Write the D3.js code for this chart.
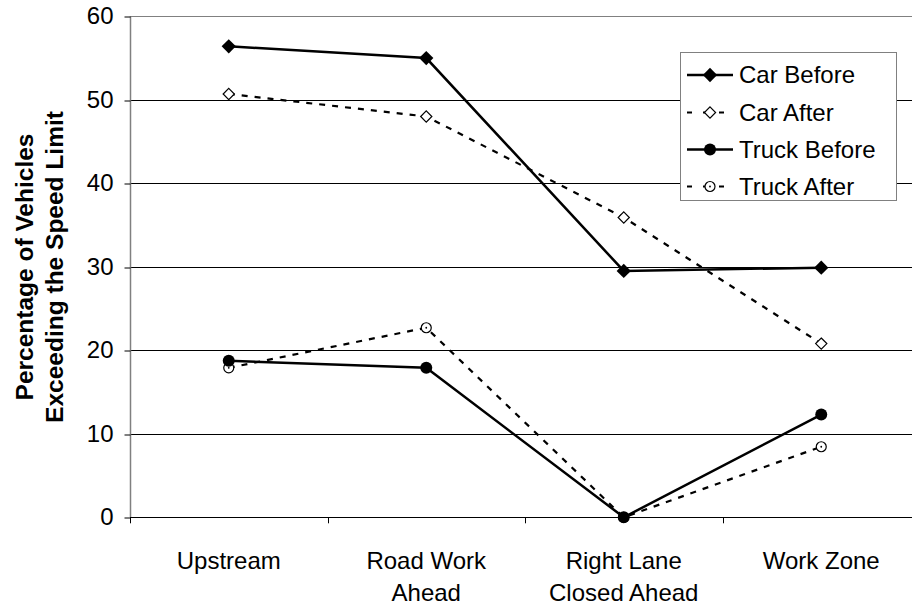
<!DOCTYPE html>
<html><head><meta charset="utf-8">
<script src="https://cdn.jsdelivr.net/npm/d3@7"></script>
<style>body{margin:0;background:#fff;overflow:hidden}svg{display:block;font-family:"Liberation Sans",Arial,sans-serif}</style>
</head><body><svg id="c" width="912" height="611"></svg>
<script>
const categories = [["Upstream"], ["Road Work","Ahead"], ["Right Lane","Closed Ahead"], ["Work Zone"]];
const carBefore = [56.4, 55.0, 29.5, 29.9];
const carAfter = [50.7, 48.0, 35.9, 20.8];
const truckBefore = [18.75, 17.9, 0, 12.3];
const truckAfter = [17.9, 22.7, 0, 8.45];
const yTicks = [0, 10, 20, 30, 40, 50, 60];
const seriesNames = ["Car Before", "Car After", "Truck Before", "Truck After"];

const FS = 24;
const svg = d3.select("#c");
const L = 130, R = 920, T = 16.3, B = 517.3;
const x = d3.scaleBand().domain(d3.range(categories.length)).range([L, R]);
const y = d3.scaleLinear().domain([0, 60]).range([B, T]);

// gridlines
svg.append("g").selectAll("line").data(yTicks.filter(d => d > 0)).join("line")
  .attr("x1", L).attr("x2", 912).attr("y1", d => Math.round(y(d)) + 0.5).attr("y2", d => Math.round(y(d)) + 0.5)
  .attr("stroke", d => d === 60 ? "#808080" : "#000").attr("stroke-width", 1);

// y axis
const ya = svg.append("g").attr("transform", `translate(${L + 0.5},0)`)
  .call(d3.axisLeft(y).tickValues(yTicks).tickSize(6).tickPadding(11).tickFormat(d3.format("d")));
ya.select(".domain").attr("stroke", "#808080").attr("stroke-width", 1.5).attr("d", `M0,${T}V${B}`);
ya.selectAll(".tick line").attr("stroke", "#000").attr("transform", d => `translate(0,${Math.round(y(d)) + 0.5 - y(d)})`);
ya.selectAll(".tick text").attr("font-size", FS).attr("fill", "#000").attr("font-family", "Liberation Sans, Arial, sans-serif");

// x axis
const xa = svg.append("g");
xa.append("line").attr("x1", L).attr("x2", 912).attr("y1", Math.round(B) + 0.5).attr("y2", Math.round(B) + 0.5).attr("stroke", "#000");
xa.selectAll("line.tk").data(d3.range(categories.length + 1)).join("line").attr("class", "tk")
  .attr("x1", i => Math.round(L + i * x.step()) + 0.5).attr("x2", i => Math.round(L + i * x.step()) + 0.5)
  .attr("y1", B).attr("y2", B + 6).attr("stroke", "#000");
const xl = xa.selectAll("text").data(categories).join("text")
  .attr("x", (d, i) => x(i) + x.bandwidth() / 2).attr("y", 569)
  .attr("text-anchor", "middle").attr("font-size", FS).attr("fill", "#000");
xl.selectAll("tspan").data(d => d).join("tspan")
  .attr("x", function() { return this.parentNode.getAttribute("x"); })
  .attr("dy", (d, i) => i === 0 ? 0 : 32).text(d => d);

// y title
const yt = svg.append("text").attr("transform", "translate(0,267) rotate(-90)")
  .attr("text-anchor", "middle").attr("font-size", 24.5).attr("font-weight", "bold").attr("fill", "#000");
yt.append("tspan").attr("x", 0).attr("y", 33).text("Percentage of Vehicles");
yt.append("tspan").attr("x", 0).attr("y", 63).text("Exceeding the Speed Limit");

const cx = i => x(i) + x.bandwidth() / 2;
const line = d3.line().x((d, i) => cx(i)).y(d => y(d));

const series = [
  { name: seriesNames[0], data: carBefore, dash: null, w: 2.5, marker: "diamondFill" },
  { name: seriesNames[1], data: carAfter, dash: "6,7", w: 2.2, marker: "diamondOpen" },
  { name: seriesNames[2], data: truckBefore, dash: null, w: 2.5, marker: "circleFill" },
  { name: seriesNames[3], data: truckAfter, dash: "6,7", w: 2.2, marker: "circleOpen" }
];

function drawMarker(g, type, px, py) {
  if (type === "diamondFill") {
    g.append("path").attr("d", d3.symbol(d3.symbolDiamond2, 130)()).attr("transform", `translate(${px},${py})`).attr("fill", "#000");
  } else if (type === "diamondOpen") {
    g.append("path").attr("d", d3.symbol(d3.symbolDiamond2, 80)()).attr("transform", `translate(${px},${py})`).attr("fill", "#fff").attr("stroke", "#000").attr("stroke-width", 1.2);
  } else if (type === "circleFill") {
    g.append("circle").attr("cx", px).attr("cy", py).attr("r", 6).attr("fill", "#000");
  } else {
    g.append("circle").attr("cx", px).attr("cy", py).attr("r", 5).attr("fill", "#fff").attr("stroke", "#000").attr("stroke-width", 1.2);
    g.append("circle").attr("cx", px).attr("cy", py).attr("r", 0.9).attr("fill", "#000");
  }
}

const plot = svg.append("g");
series.forEach(s => {
  plot.append("path").datum(s.data).attr("d", line).attr("fill", "none").attr("stroke", "#000")
    .attr("stroke-width", s.w).attr("stroke-dasharray", s.dash);
});
[1, 3, 0, 2].forEach(k => {
  const s = series[k];
  const g = plot.append("g");
  s.data.forEach((v, i) => drawMarker(g, s.marker, cx(i), y(v)));
});

// legend
const lg = svg.append("g");
lg.append("rect").attr("x", 680.5).attr("y", 52.5).attr("width", 216).attr("height", 148)
  .attr("fill", "#fff").attr("stroke", "#808080").attr("stroke-width", 1);
const ly = [75, 112.5, 149.5, 186.5];
series.forEach((s, i) => {
  lg.append("line").attr("x1", 687).attr("x2", 733).attr("y1", ly[i]).attr("y2", ly[i])
    .attr("stroke", "#000").attr("stroke-width", s.w).attr("stroke-dasharray", s.dash ? "5,11" : null);
  drawMarker(lg, s.marker, 710, ly[i]);
  lg.append("text").attr("x", 739).attr("y", ly[i]).attr("dy", "0.35em").attr("font-size", FS).attr("fill", "#000").text(s.name);
});
</script></body></html>
